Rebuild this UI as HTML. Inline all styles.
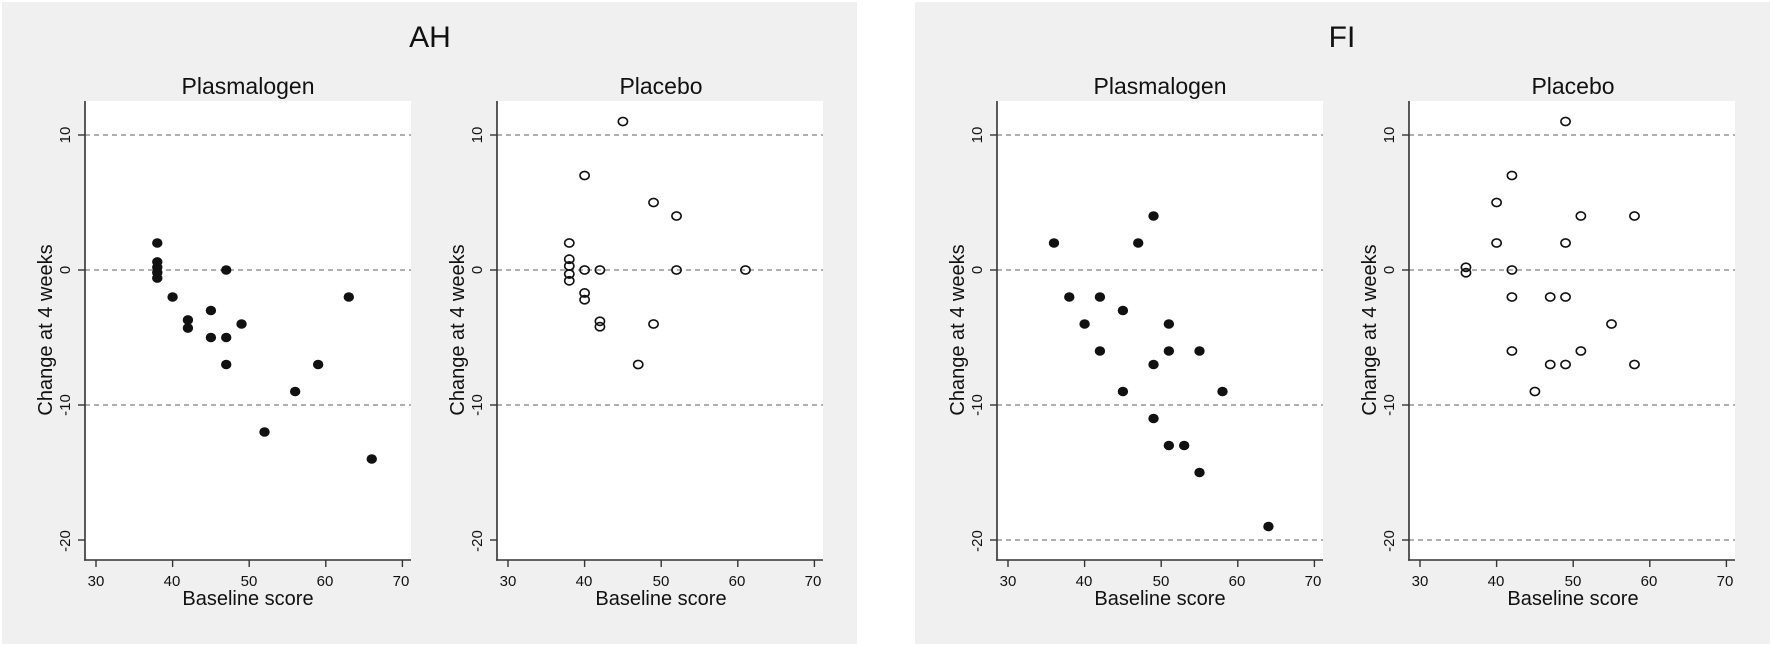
<!DOCTYPE html>
<html><head><meta charset="utf-8"><style>
html,body{margin:0;padding:0;background:#fff;}
svg{display:block;font-family:"Liberation Sans",Arial,sans-serif;}
</style></head><body>
<svg id="s" width="1772" height="646" xmlns="http://www.w3.org/2000/svg">
<rect x="2" y="2" width="855" height="642" fill="#f0f0f0"/>
<rect x="915" y="2" width="855" height="642" fill="#f0f0f0"/>
<text x="430" y="47" font-size="30" text-anchor="middle" fill="#111">AH</text>
<text x="1342" y="47" font-size="30" text-anchor="middle" fill="#111">FI</text>
<g id="g"></g>
<g font-size="23" text-anchor="middle" fill="#111">
<text x="248" y="94">Plasmalogen</text>
<text x="661" y="94">Placebo</text>
<text x="1160" y="94">Plasmalogen</text>
<text x="1573" y="94">Placebo</text>
</g>
<g font-size="20" text-anchor="middle" fill="#111">
<text x="248" y="605">Baseline score</text>
<text x="661" y="605">Baseline score</text>
<text x="1160" y="605">Baseline score</text>
<text x="1573" y="605">Baseline score</text>
<text transform="translate(52,330) rotate(-90)">Change at 4 weeks</text>
<text transform="translate(464,330) rotate(-90)">Change at 4 weeks</text>
<text transform="translate(964,330) rotate(-90)">Change at 4 weeks</text>
<text transform="translate(1376,330) rotate(-90)">Change at 4 weeks</text>
</g>
<g font-size="15" text-anchor="middle" fill="#111">
<text x="96" y="586">30</text><text x="172" y="586">40</text><text x="249" y="586">50</text><text x="325" y="586">60</text><text x="401" y="586">70</text>
<text x="508" y="586">30</text><text x="584" y="586">40</text><text x="661" y="586">50</text><text x="737" y="586">60</text><text x="813" y="586">70</text>
<text x="1008" y="586">30</text><text x="1084" y="586">40</text><text x="1161" y="586">50</text><text x="1237" y="586">60</text><text x="1313" y="586">70</text>
<text x="1420" y="586">30</text><text x="1496" y="586">40</text><text x="1573" y="586">50</text><text x="1649" y="586">60</text><text x="1725" y="586">70</text>
<text transform="translate(70,135) rotate(-90)">10</text><text transform="translate(70,270) rotate(-90)">0</text><text transform="translate(70,405) rotate(-90)">-10</text><text transform="translate(70,541) rotate(-90)">-20</text>
<text transform="translate(482,135) rotate(-90)">10</text><text transform="translate(482,270) rotate(-90)">0</text><text transform="translate(482,405) rotate(-90)">-10</text><text transform="translate(482,541) rotate(-90)">-20</text>
<text transform="translate(982,135) rotate(-90)">10</text><text transform="translate(982,270) rotate(-90)">0</text><text transform="translate(982,405) rotate(-90)">-10</text><text transform="translate(982,541) rotate(-90)">-20</text>
<text transform="translate(1394,135) rotate(-90)">10</text><text transform="translate(1394,270) rotate(-90)">0</text><text transform="translate(1394,405) rotate(-90)">-10</text><text transform="translate(1394,541) rotate(-90)">-20</text>
</g>
</svg>
<script>
(function(){
var NS="http://www.w3.org/2000/svg",g=document.getElementById('g');
function el(n,a){var e=document.createElementNS(NS,n);for(var k in a)e.setAttribute(k,a[k]);g.appendChild(e);return e;}
var panels=[
 {ax:85,dash:[10,0,-10],fill:true,d:[[38,2],[38,0.6],[38,0.2],[38,-0.2],[38,-0.6],[40,-2],[42,-3.7],[42,-4.3],[45,-3],[45,-5],[47,0],[47,-5],[47,-7],[49,-4],[52,-12],[56,-9],[59,-7],[63,-2],[66,-14]]},
 {ax:497,dash:[10,0,-10],fill:false,d:[[45,11],[40,7],[49,5],[52,4],[38,2],[38,0.8],[38,0.3],[38,-0.3],[38,-0.8],[40,0],[42,0],[52,0],[61,0],[40,-1.7],[40,-2.2],[42,-3.8],[42,-4.2],[49,-4],[47,-7]]},
 {ax:997,dash:[10,0,-10,-20],fill:true,d:[[36,2],[47,2],[49,4],[38,-2],[42,-2],[40,-4],[45,-3],[42,-6],[51,-4],[51,-6],[55,-6],[49,-7],[45,-9],[58,-9],[49,-11],[51,-13],[53,-13],[55,-15],[64,-19]]},
 {ax:1409,dash:[10,0,-10,-20],fill:false,d:[[49,11],[42,7],[40,5],[51,4],[58,4],[40,2],[49,2],[36,0.2],[36,-0.2],[42,0],[42,-2],[47,-2],[49,-2],[55,-4],[42,-6],[51,-6],[47,-7],[49,-7],[58,-7],[45,-9]]}
];
panels.forEach(function(p){
 var x0=p.ax, sx=function(v){return x0+11+(v-30)*7.66;}, sy=function(v){return 270-13.5*v;};
 el('rect',{x:x0,y:101,width:326,height:459,fill:'#fff'});
 p.dash.forEach(function(v){el('line',{x1:x0,x2:x0+326,y1:sy(v),y2:sy(v),stroke:'#808080','stroke-width':1.2,'stroke-dasharray':'5,4'});});
 el('line',{x1:x0,x2:x0,y1:101,y2:560.7,stroke:'#333','stroke-width':1.6});
 el('line',{x1:x0-0.8,x2:x0+326,y1:560,y2:560,stroke:'#333','stroke-width':1.6});
 [10,0,-10,-20].forEach(function(v){el('line',{x1:x0-7,x2:x0,y1:sy(v),y2:sy(v),stroke:'#333','stroke-width':1.4});});
 [30,40,50,60,70].forEach(function(v){el('line',{x1:sx(v),x2:sx(v),y1:560,y2:567,stroke:'#333','stroke-width':1.4});});
 p.d.forEach(function(d){
  if(p.fill) el('ellipse',{cx:sx(d[0]),cy:sy(d[1]),rx:5.2,ry:4.8,fill:'#111'});
  else el('ellipse',{cx:sx(d[0]),cy:sy(d[1]),rx:4.6,ry:4.1,fill:'none',stroke:'#111','stroke-width':1.6});
 });
});
})();
</script>
</body></html>
